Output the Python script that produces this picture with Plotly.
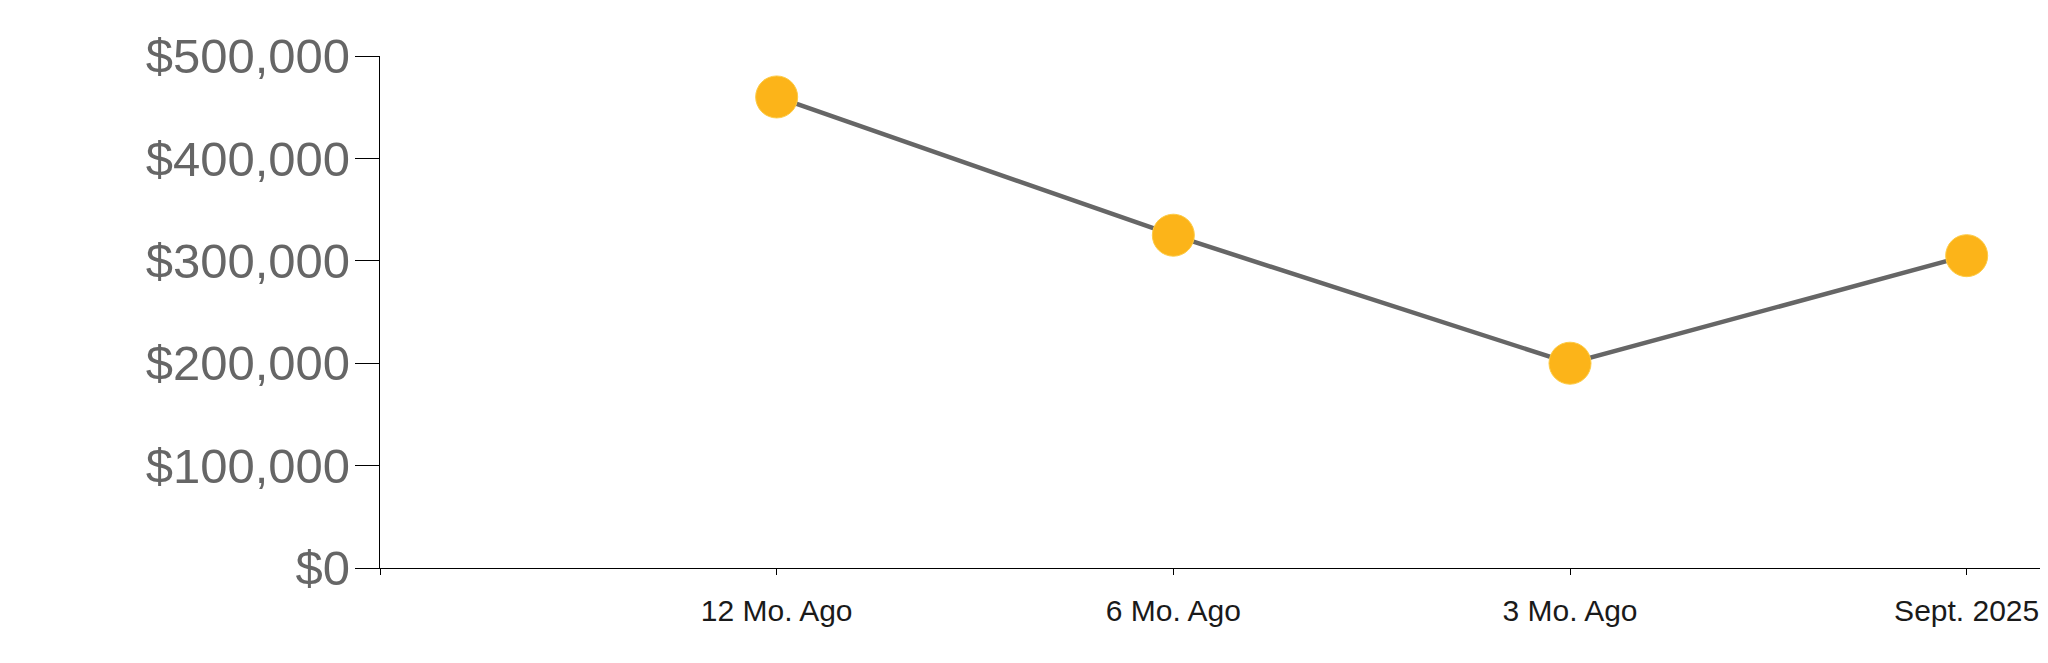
import plotly.graph_objects as go

categories = ["12 Mo. Ago", "6 Mo. Ago", "3 Mo. Ago", "Sept. 2025"]
positions = [1, 2, 3, 4]
values = [460000, 325000, 200000, 305000]
y_ticks = [0, 100000, 200000, 300000, 400000, 500000]
y_tick_labels = ["$0", "$100,000", "$200,000", "$300,000", "$400,000", "$500,000"]

fig = go.Figure()
fig.add_trace(go.Scatter(
    x=positions, y=values, mode="lines+markers",
    line=dict(color="#666666", width=4.5),
    marker=dict(size=42, color="#FCB419", line=dict(color="#FDCB45", width=1)),
    hoverinfo="skip", showlegend=False,
))

fig.update_layout(
    width=2040, height=655,
    margin=dict(l=372, r=0, t=48, b=95),
    paper_bgcolor="white", plot_bgcolor="white",
    font=dict(family="Liberation Sans, Arial, sans-serif"),
    xaxis=dict(
        range=[0, 4.205], tickmode="array",
        tickvals=[0] + positions, ticktext=[""] + categories,
        showline=True, linecolor="#000000", linewidth=1.3,
        ticks="outside", ticklen=6, tickcolor="#000000", tickwidth=1.3,
        showgrid=False, zeroline=False,
        tickfont=dict(size=30, color="#1a1a1a"),
        ticklabelstandoff=10,
    ),
    yaxis=dict(
        range=[0, 500000], tickmode="array",
        tickvals=y_ticks, ticktext=y_tick_labels,
        showline=True, linecolor="#000000", linewidth=1.3,
        ticks="outside", ticklen=24, tickcolor="#000000", tickwidth=1.3,
        showgrid=False, zeroline=False,
        tickfont=dict(size=49, color="#666666"),
        ticklabelstandoff=-5,
    ),
)

fig.write_html("out.html")
